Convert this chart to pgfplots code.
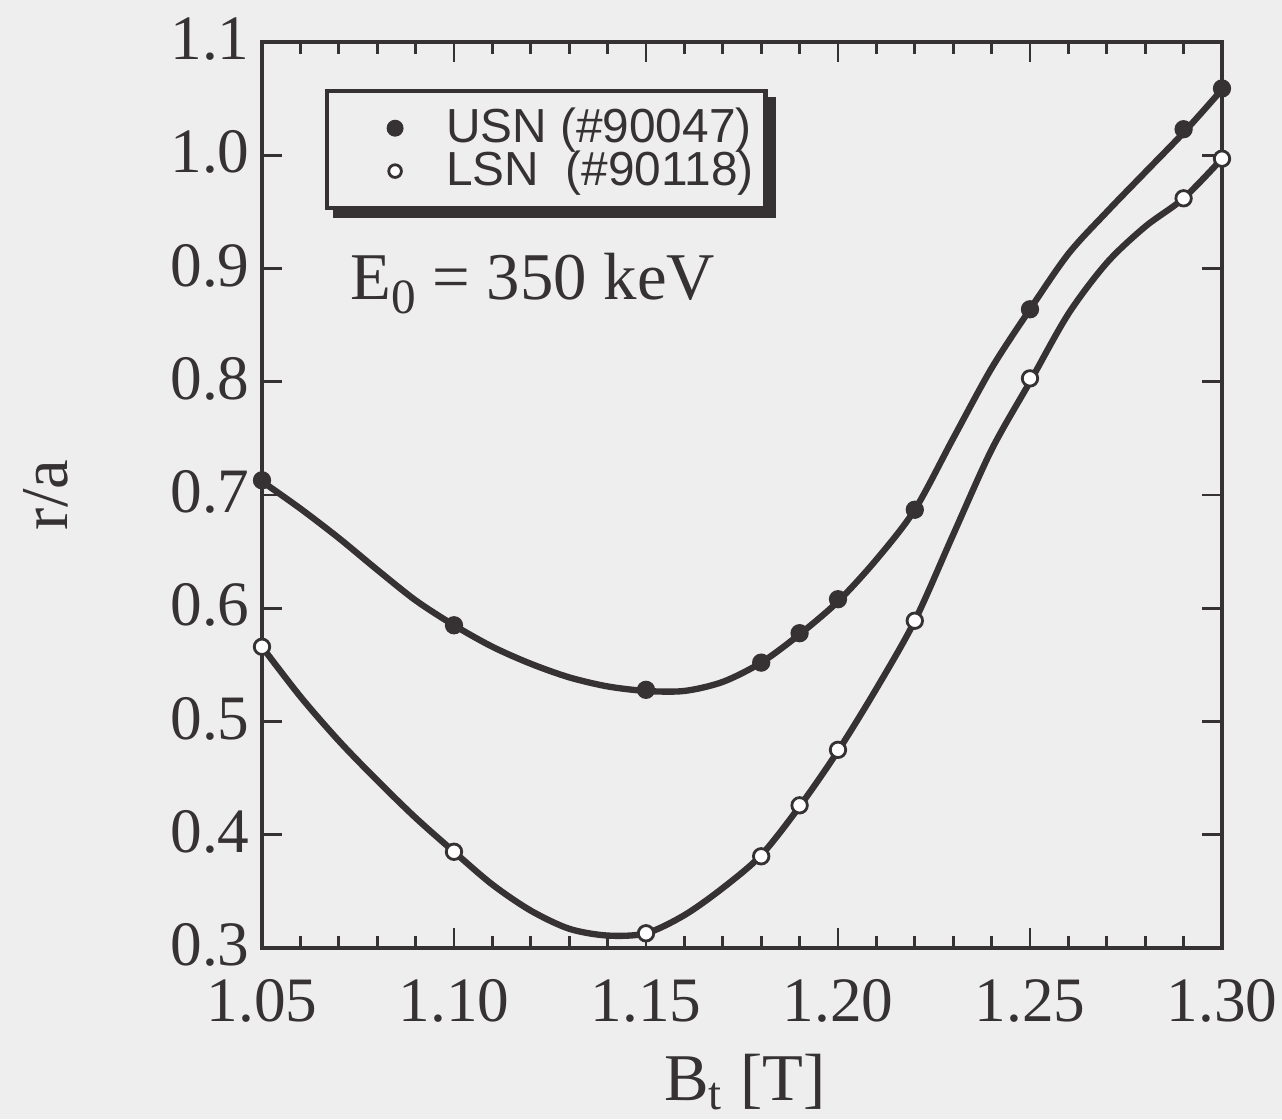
\documentclass[border=0pt]{standalone}
\usepackage{pgfplots}
\pgfplotsset{compat=1.18}
\usepackage{fontspec}
\setmainfont{Liberation Serif}
\setsansfont{Liberation Sans}
\usetikzlibrary{backgrounds}
\definecolor{ink}{HTML}{363233}
\definecolor{bg}{HTML}{EFEEEF}
\begin{document}
\begin{tikzpicture}
\path[use as bounding box] (-2.62,-1.71) rectangle (10.20,9.48);
\begin{axis}[
  at={(0,0)}, anchor=south west,
  scale only axis, width=9.6cm, height=9.06cm,
  xmin=1.05, xmax=1.30, ymin=0.3, ymax=1.1,
  xtick={1.05,1.10,1.15,1.20,1.25,1.30},
  xticklabels={1.05,1.10,1.15,1.20,1.25,1.30},
  minor x tick num=4,
  ytick={0.3,0.4,0.5,0.6,0.7,0.8,0.9,1.0,1.1},
  yticklabels={0.3,0.4,0.5,0.6,0.7,0.8,0.9,1.0,1.1},
  tick label style={font=\fontsize{18}{20}\selectfont, text=ink},
  xticklabel style={yshift=-0.19cm},
  yticklabel style={yshift=0.03cm},
  major tick length=0.2cm, minor tick length=0.12cm,
  tick align=inside,
  axis line style={ink, line width=1pt},
  every tick/.style={ink, line width=0.8pt},
  xlabel={B\textsubscript{t} [T]},
  ylabel={r/a},
  label style={font=\fontsize{19}{21}\selectfont, text=ink},
  xlabel style={at={(axis description cs:0.503,-0.168)}, anchor=base},
  ylabel style={at={(axis description cs:-0.225,0.5)}, anchor=center},
  legend style={name=leg, at={(rel axis cs:0.0655,0.948)}, anchor=north west,
    draw=ink, line width=1.2pt, fill=bg,
    font=\sffamily\fontsize{13.6}{14}\selectfont, text=ink,
    inner xsep=0.12cm, inner ysep=0.17cm,
    nodes={inner sep=0pt, anchor=west},
    row sep=0.03cm, column sep=0pt},
  legend cell align=left,
  legend image code/.code={
    \path (0cm,-0.1cm) (1.03cm,0.1cm);
    \draw[#1, mark size=1.8pt] plot coordinates {(0.54cm,0cm)};
  },
]
% fitted curves
\addplot[ink, line width=1.8pt, smooth, forget plot] coordinates {
(1.05,0.712) (1.06,0.688) (1.07,0.662) (1.08,0.634) (1.09,0.607)
(1.10,0.585) (1.11,0.566) (1.12,0.551) (1.13,0.539) (1.14,0.531)
(1.15,0.527) (1.16,0.527) (1.17,0.535) (1.18,0.552) (1.19,0.577)
(1.20,0.606) (1.21,0.643) (1.22,0.687) (1.23,0.750) (1.24,0.812)
(1.25,0.864) (1.26,0.913) (1.27,0.950) (1.28,0.985) (1.29,1.020)
(1.30,1.058)};
\addplot[ink, line width=1.8pt, smooth, forget plot] coordinates {
(1.05,0.566) (1.06,0.522) (1.07,0.483) (1.08,0.448) (1.09,0.415)
(1.10,0.385) (1.11,0.356) (1.12,0.333) (1.13,0.317) (1.14,0.311)
(1.15,0.313) (1.16,0.329) (1.17,0.353) (1.18,0.382) (1.19,0.425)
(1.20,0.474) (1.21,0.529) (1.22,0.589) (1.23,0.665) (1.24,0.740)
(1.25,0.800) (1.26,0.860) (1.27,0.905) (1.28,0.937) (1.29,0.962)
(1.30,0.997)};
% data points
\addplot[only marks, mark=*, mark size=2.4pt, draw=ink, fill=ink] coordinates {
(1.05,0.713) (1.10,0.585) (1.15,0.528) (1.18,0.552) (1.19,0.578)
(1.20,0.608) (1.22,0.687) (1.25,0.864) (1.29,1.023) (1.30,1.059)};
\addlegendentry{USN (\#90047)}
\addplot[only marks, mark=*, mark size=2.2pt, draw=ink, fill=white, line width=0.8pt] coordinates {
(1.05,0.566) (1.10,0.385) (1.15,0.313) (1.18,0.381) (1.19,0.426)
(1.20,0.475) (1.22,0.589) (1.25,0.803) (1.29,0.962) (1.30,0.997)};
\addlegendentry{LSN\ \ (\#90118)}
\node[font=\fontsize{19}{21}\selectfont, text=ink, anchor=center] at (axis cs:1.1205,0.887)
  {E\raisebox{-0.45ex}{\fontsize{14}{14}\selectfont 0} = 350 keV};
\end{axis}
\begin{scope}[on background layer]
\fill[bg] (-2.62,-1.71) rectangle (10.20,9.48);
\fill[ink] ([xshift=0.08cm,yshift=-0.08cm]leg.south west) rectangle ([xshift=0.08cm,yshift=-0.08cm]leg.north east);
\end{scope}
\end{tikzpicture}
\end{document}
